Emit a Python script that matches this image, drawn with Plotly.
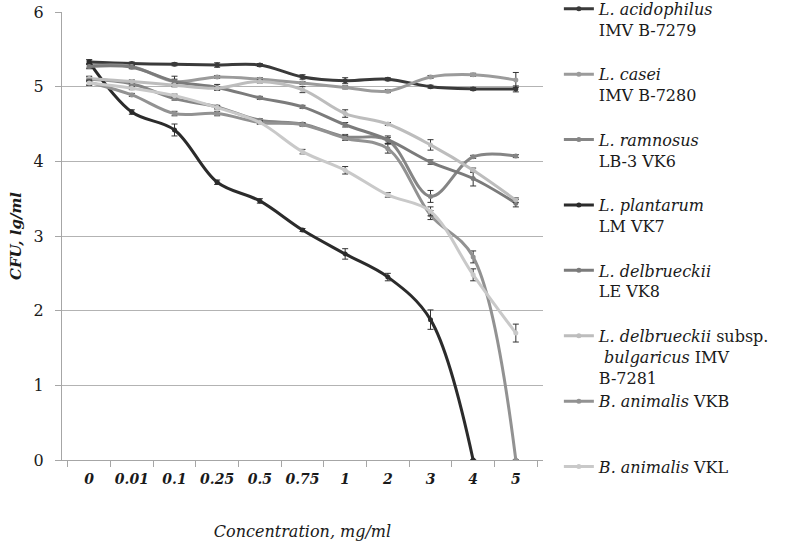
import plotly.graph_objects as go

concentrations = ["0", "0.01", "0.1", "0.25", "0.5", "0.75", "1", "2", "3", "4", "5"]

series_names = [
    "<i>L. acidophilus</i><br>IMV B-7279<br> ",
    "<i>L. casei</i><br>IMV B-7280<br> ",
    "<i>L. ramnosus</i><br>LB-3 VK6<br> ",
    "<i>L. plantarum</i><br>LM VK7<br> ",
    "<i>L. delbrueckii</i><br>LE VK8<br> ",
    "<i>L. delbrueckii</i> subsp.<br> <i>bulgaricus</i> IMV<br>B-7281",
    "<i>B. animalis</i> VKB<br> <br> ",
    "<i>B. animalis</i> VKL",
]

acidophilus = [5.33, 5.31, 5.30, 5.29, 5.29, 5.13, 5.08, 5.10, 5.00, 4.97, 4.97]
casei = [5.28, 5.27, 5.07, 5.13, 5.10, 5.05, 4.99, 4.94, 5.13, 5.16, 5.09]
ramnosus = [5.10, 5.04, 4.84, 4.73, 4.55, 4.50, 4.33, 4.28, 3.53, 4.06, 4.07]
plantarum = [5.33, 4.66, 4.42, 3.72, 3.47, 3.08, 2.76, 2.45, 1.88, 0.0, None]
delbrueckii_le = [5.27, 5.26, 5.07, 4.99, 4.85, 4.73, 4.49, 4.29, 3.99, 3.77, 3.44]
bulgaricus = [5.11, 5.07, 5.02, 4.98, 5.07, 4.96, 4.64, 4.50, 4.22, 3.88, 3.48]
animalis_vkb = [5.06, 4.89, 4.64, 4.64, 4.52, 4.49, 4.31, 4.17, 3.28, 2.72, 0.0]
animalis_vkl = [5.05, 4.98, 4.88, 4.72, 4.52, 4.13, 3.88, 3.55, 3.33, 2.48, 1.70]

err_acidophilus = [0.03, 0.02, 0.02, 0.03, 0.02, 0.03, 0.04, 0.02, 0.02, 0.02, 0.04]
err_casei = [0.03, 0.02, 0.07, 0.02, 0.02, 0.02, 0.02, 0.02, 0.02, 0.02, 0.10]
err_ramnosus = [0.03, 0.02, 0.02, 0.02, 0.02, 0.02, 0.03, 0.04, 0.08, 0.02, 0.02]
err_plantarum = [0.03, 0.03, 0.08, 0.03, 0.03, 0.02, 0.07, 0.05, 0.13, 0.0, 0.0]
err_delbrueckii_le = [0.03, 0.02, 0.03, 0.04, 0.02, 0.02, 0.03, 0.05, 0.03, 0.10, 0.05]
err_bulgaricus = [0.03, 0.02, 0.02, 0.02, 0.02, 0.04, 0.05, 0.02, 0.07, 0.03, 0.03]
err_vkb = [0.04, 0.02, 0.03, 0.03, 0.02, 0.02, 0.03, 0.06, 0.06, 0.08, 0.0]
err_vkl = [0.03, 0.02, 0.02, 0.02, 0.02, 0.03, 0.05, 0.03, 0.06, 0.08, 0.12]

colors = ["#3a3a3a", "#9b9b9b", "#858585", "#2b2b2b", "#7b7b7b", "#bdbdbd", "#929292", "#c9c9c9"]

all_values = [acidophilus, casei, ramnosus, plantarum, delbrueckii_le, bulgaricus, animalis_vkb, animalis_vkl]
all_errors = [err_acidophilus, err_casei, err_ramnosus, err_plantarum, err_delbrueckii_le,
              err_bulgaricus, err_vkb, err_vkl]

FONT = "DejaVu Serif"

fig = go.Figure()
for name, vals, errs, col in zip(series_names, all_values, all_errors, colors):
    fig.add_trace(go.Scatter(
        x=concentrations, y=vals, name=name,
        mode="lines+markers",
        line=dict(color=col, width=3, shape="spline", smoothing=1),
        marker=dict(color=col, size=5),
        error_y=dict(type="data", array=errs, visible=True, color="#333333", thickness=1, width=3),
    ))

fig.update_layout(
    width=788, height=542,
    margin=dict(l=62, r=245, t=12, b=82, autoexpand=False),
    plot_bgcolor="white", paper_bgcolor="white",
    font=dict(family=FONT, size=16, color="#1a1a1a"),
    legend=dict(
        x=1.033, xanchor="left", y=1.045, yanchor="top",
        valign="top", tracegroupgap=0, maxheight=560,
        font=dict(family=FONT, size=16, color="#1a1a1a"),
        bgcolor="rgba(0,0,0,0)",
    ),
    showlegend=True,
)

fig.update_xaxes(
    type="category",
    showgrid=False,
    showline=True, linecolor="#a6a6a6", linewidth=1,
    ticks="outside", ticklen=6, tickcolor="#a6a6a6", tickson="boundaries",
    tickangle=0, ticklabelstandoff=6,
    tickfont=dict(family=FONT, size=14, color="#1a1a1a", style="italic", weight="bold"),
    title=dict(text="<i>Concentration, mg/ml</i>", font=dict(family=FONT, size=16, color="#1a1a1a"), standoff=40),
)

fig.update_yaxes(
    range=[0, 6], dtick=1,
    showgrid=True, gridcolor="#b3b3b3", gridwidth=1,
    showline=True, linecolor="#a6a6a6", linewidth=1,
    ticks="outside", ticklen=6, tickcolor="#a6a6a6",
    zeroline=False,
    ticklabelstandoff=8,
    tickfont=dict(family=FONT, size=16, color="#1a1a1a"),
    title=dict(text="<b><i>CFU, lg/ml</i></b>", font=dict(family=FONT, size=15, color="#1a1a1a"), standoff=8),
)

fig.write_html(
    "out.html",
    config={"displayModeBar": False},
    post_script="document.body.style.margin='0';document.body.style.overflow='hidden';",
)
